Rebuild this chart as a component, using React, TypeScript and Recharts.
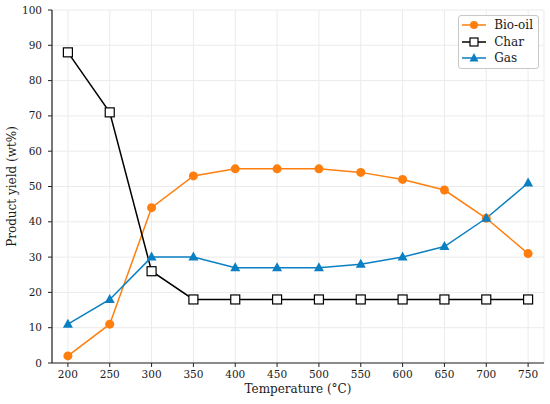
import React from 'react';
import { LineChart, Line, XAxis, YAxis, CartesianGrid } from 'recharts';

const temperatures = [200, 250, 300, 350, 400, 450, 500, 550, 600, 650, 700, 750];
const bioOil = [2, 11, 44, 53, 55, 55, 55, 54, 52, 49, 41, 31];
const charYield = [88, 71, 26, 18, 18, 18, 18, 18, 18, 18, 18, 18];
const gasYield = [11, 18, 30, 30, 27, 27, 27, 28, 30, 33, 41, 51];
const yTicks = [0, 10, 20, 30, 40, 50, 60, 70, 80, 90, 100];

const ORANGE = '#ff7f0e';
const BLUE = '#0a7fc2';
const FONT = 'DejaVu Serif';

const data = temperatures.map((t, i) => ({
  temperature: t,
  bioOil: bioOil[i],
  char: charYield[i],
  gas: gasYield[i],
}));

const CircleDot = (props: any) => {
  const { cx, cy } = props;
  if (cx == null || cy == null) return null;
  return <circle cx={cx} cy={cy} r={4.5} fill={ORANGE} />;
};

const SquareDot = (props: any) => {
  const { cx, cy } = props;
  if (cx == null || cy == null) return null;
  return <rect x={cx - 4.5} y={cy - 4.5} width={9} height={9} fill="#fff" stroke="#000" strokeWidth={1.2} />;
};

const TriangleDot = (props: any) => {
  const { cx, cy } = props;
  if (cx == null || cy == null) return null;
  return <polygon points={`${cx},${cy - 5.5} ${cx - 5},${cy + 3.5} ${cx + 5},${cy + 3.5}`} fill={BLUE} />;
};

const legendItems = [
  { name: 'Bio-oil', color: ORANGE, marker: 'circle' },
  { name: 'Char', color: '#000', marker: 'square' },
  { name: 'Gas', color: BLUE, marker: 'triangle' },
];

const LegendBox = () => (
  <div
    style={{
      position: 'absolute',
      right: 11,
      top: 15,
      whiteSpace: 'nowrap',
      border: '1px solid #c8c8c8',
      borderRadius: 3,
      background: '#fff',
      padding: '1px 5px 1px 3px',
      fontFamily: FONT,
      fontSize: 12,
      color: '#1a1a1a',
    }}
  >
    {legendItems.map((item) => (
      <div key={item.name} style={{ display: 'flex', alignItems: 'center', height: 16.5 }}>
        <svg width={24} height={12} style={{ marginRight: 8 }}>
          <line x1={0} y1={6} x2={24} y2={6} stroke={item.color} strokeWidth={1.5} />
          {item.marker === 'circle' && <circle cx={12} cy={6} r={4} fill={item.color} />}
          {item.marker === 'square' && (
            <rect x={8} y={2} width={8} height={8} fill="#fff" stroke="#000" strokeWidth={1.2} />
          )}
          {item.marker === 'triangle' && <polygon points="12,1 7.5,9.5 16.5,9.5" fill={item.color} />}
        </svg>
        <span>{item.name}</span>
      </div>
    ))}
  </div>
);

const XTick = (props: any) => {
  const { x, y, payload } = props;
  return (
    <text x={x} y={y + 9} textAnchor="middle" style={{ fontFamily: FONT, fontSize: 10.5 }} fill="#1a1a1a">
      {payload.value}
    </text>
  );
};

const YTick = (props: any) => {
  const { x, y, payload } = props;
  return (
    <text x={x - 4} y={y + 3.5} textAnchor="end" style={{ fontFamily: FONT, fontSize: 10.5 }} fill="#1a1a1a">
      {payload.value}
    </text>
  );
};

const XLabel = (props: any) => {
  const { viewBox } = props;
  return (
    <text x={viewBox.x + viewBox.width / 2} y={393} textAnchor="middle" style={{ fontFamily: FONT, fontSize: 12 }} fill="#1a1a1a">
      Temperature (°C)
    </text>
  );
};

const YLabel = (props: any) => {
  const { viewBox } = props;
  const cy = viewBox.y + viewBox.height / 2;
  return (
    <text x={16} y={cy} textAnchor="middle" style={{ fontFamily: FONT, fontSize: 12 }} fill="#1a1a1a" transform={`rotate(-90, 16, ${cy})`}>
      Product yield (wt%)
    </text>
  );
};

export default function App() {
  return (
    <div style={{ position: 'absolute', left: 0, top: 0, width: 550, height: 404, background: '#fff' }}>
      <LineChart width={550} height={404} data={data} margin={{ top: 10, right: 6, bottom: 21, left: 22 }}>
        <CartesianGrid stroke="#ebebeb" strokeWidth={1} />
        <XAxis
          dataKey="temperature"
          type="number"
          domain={[181, 769]}
          ticks={temperatures}
          height={20}
          tick={<XTick />}
          tickLine={{ stroke: '#222' }}
          tickSize={4}
          axisLine={{ stroke: '#222', strokeWidth: 1.2 }}
          label={<XLabel />}
        />
        <XAxis xAxisId="top" orientation="top" dataKey="temperature" type="number" domain={[181, 769]} height={0} tick={false} tickLine={false} axisLine={{ stroke: '#222', strokeWidth: 1.2 }} />
        <YAxis
          domain={[0, 100]}
          ticks={yTicks}
          width={30}
          tick={<YTick />}
          tickLine={{ stroke: '#222' }}
          tickSize={4}
          axisLine={{ stroke: '#222', strokeWidth: 1.2 }}
          label={<YLabel />}
        />
        <YAxis yAxisId="right" orientation="right" domain={[0, 100]} width={0} tick={false} tickLine={false} axisLine={{ stroke: '#222', strokeWidth: 1.2 }} />
        <Line dataKey="bioOil" name="Bio-oil" stroke={ORANGE} strokeWidth={1.5} dot={<CircleDot />} activeDot={false} isAnimationActive={false} />
        <Line dataKey="char" name="Char" stroke="#000" strokeWidth={1.5} dot={<SquareDot />} activeDot={false} isAnimationActive={false} />
        <Line dataKey="gas" name="Gas" stroke={BLUE} strokeWidth={1.5} dot={<TriangleDot />} activeDot={false} isAnimationActive={false} />
      </LineChart>
      <LegendBox />
    </div>
  );
}
